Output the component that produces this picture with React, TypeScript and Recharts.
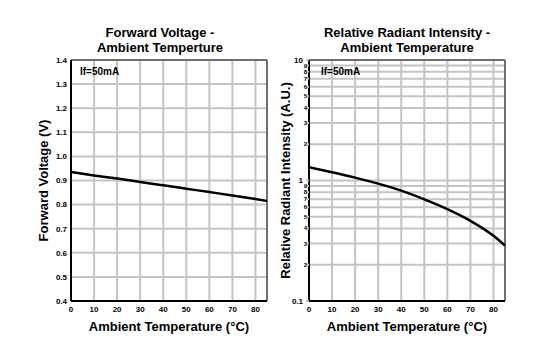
import {
  LineChart,
  Line,
  XAxis,
  YAxis,
  CartesianGrid,
  ReferenceLine,
} from 'recharts'

// temperature points (°C)
const temps = [0, 10, 20, 30, 40, 50, 60, 70, 80, 85]
const forwardVoltage = [0.935, 0.921, 0.908, 0.894, 0.88, 0.866, 0.852, 0.838, 0.823, 0.815]
const radiantIntensity = [1.29, 1.172, 1.057, 0.942, 0.824, 0.698, 0.579, 0.463, 0.348, 0.289]

const xTicks = [0, 10, 20, 30, 40, 50, 60, 70, 80]
const vfTicks = [0.4, 0.5, 0.6, 0.7, 0.8, 0.9, 1.0, 1.1, 1.2, 1.3, 1.4]
const logTicks = [
  0.1, 0.2, 0.3, 0.4, 0.5, 0.6, 0.7, 0.8, 0.9,
  1, 2, 3, 4, 5, 6, 7, 8, 9, 10,
]

const FONT = '"Liberation Sans", Arial, sans-serif'
const GRID = '#c4c4c4'
const FRAME = '#707070'

const vfData = temps.map((t, i) => ({ t, v: forwardVoltage[i] }))
const irData = temps.map((t, i) => ({ t, v: radiantIntensity[i] }))

function yLabel(text: string, x: number) {
  return (props: any) => {
    const vb = props.viewBox || {}
    const cy = (vb.y ?? 60) + (vb.height ?? 241) / 2
    return (
      <text
        transform={`translate(${x}, ${cy}) rotate(-90)`}
        textAnchor="middle"
        dominantBaseline="central"
        fontFamily={FONT}
        fontWeight="bold"
        fontSize={13}
        fill="#000"
      >
        {text}
      </text>
    )
  }
}

function xLabel(props: any) {
  const vb = props.viewBox || {}
  return (
    <text
      x={(vb.x ?? 0) + (vb.width ?? 0) / 2}
      y={(vb.y ?? 0) + 30}
      textAnchor="middle"
      fontFamily={FONT}
      fontWeight="bold"
      fontSize={13}
      fill="#000"
    >
      Ambient Temperature (°C)
    </text>
  )
}

// decade labels sit further left, the small 2..9 digits hug the axis
function LogTick(props: any) {
  const { x, y, payload } = props
  const v = payload.value
  const major = v === 0.1 || v === 1 || v === 10
  let label = String(v)
  if (!major) label = v < 1 ? String(Math.round(v * 10)) : String(v)
  return (
    <text
      x={major ? x - 2 : x + 2}
      y={y}
      textAnchor="end"
      dominantBaseline="central"
      fontFamily={FONT}
      fontWeight="bold"
      fontSize={major ? 8 : 6}
      fill="#000"
    >
      {label}
    </text>
  )
}

const tickStyle = { fontFamily: FONT, fontWeight: 'bold', fontSize: 8, fill: '#000' }

function Title({ lines, cx }: { lines: string[]; cx: number }) {
  return (
    <div
      style={{
        position: 'absolute',
        left: cx - 120,
        top: 25,
        width: 240,
        textAlign: 'center',
        fontFamily: FONT,
        fontWeight: 'bold',
        fontSize: 13,
        lineHeight: '15px',
        color: '#000',
      }}
    >
      {lines.map((l) => (
        <div key={l}>{l}</div>
      ))}
    </div>
  )
}

function Note({ left }: { left: number }) {
  return (
    <div
      style={{
        position: 'absolute',
        left,
        top: 66,
        fontFamily: FONT,
        fontWeight: 'bold',
        fontSize: 10,
        lineHeight: '12px',
        color: '#000',
      }}
    >
      If=50mA
    </div>
  )
}

export default function App() {
  return (
    <div
      style={{
        position: 'absolute',
        left: 0,
        top: 0,
        width: 544,
        height: 349,
        background: '#fff',
      }}
    >
      <div style={{ position: 'absolute', left: 0, top: 0 }}>
        <LineChart
          width={272}
          height={349}
          data={vfData}
          margin={{ top: 60, right: 5, bottom: 8, left: 41 }}
        >
          <CartesianGrid stroke={GRID} strokeWidth={2} />
          <XAxis
            dataKey="t"
            type="number"
            domain={[0, 85]}
            ticks={xTicks}
            interval={0}
            height={40}
            tickLine={false}
            tickSize={3}
            tickMargin={2}
            axisLine={{ stroke: '#000', strokeWidth: 2 }}
            tick={tickStyle}
            label={xLabel}
          />
          <YAxis
            type="number"
            domain={[0.4, 1.4]}
            ticks={vfTicks}
            interval={0}
            width={30}
            tickLine={false}
            tickSize={2}
            tickMargin={2}
            tickFormatter={(v: number) => v.toFixed(1)}
            axisLine={{ stroke: '#000', strokeWidth: 2 }}
            tick={tickStyle}
            label={yLabel('Forward Voltage (V)', 43)}
          />
          <ReferenceLine y={1.4} stroke={FRAME} strokeWidth={2} />
          <ReferenceLine x={85} stroke={FRAME} strokeWidth={2} />
          <Line
            type="monotone"
            dataKey="v"
            stroke="#000"
            strokeWidth={2.5}
            dot={false}
            isAnimationActive={false}
          />
        </LineChart>
      </div>
      <div style={{ position: 'absolute', left: 272, top: 0 }}>
        <LineChart
          width={272}
          height={349}
          data={irData}
          margin={{ top: 60, right: 39, bottom: 8, left: 13 }}
        >
          <CartesianGrid stroke={GRID} strokeWidth={2} />
          <XAxis
            dataKey="t"
            type="number"
            domain={[0, 85]}
            ticks={xTicks}
            interval={0}
            height={40}
            tickLine={false}
            tickSize={3}
            tickMargin={2}
            axisLine={{ stroke: '#000', strokeWidth: 2 }}
            tick={tickStyle}
            label={xLabel}
          />
          <YAxis
            type="number"
            scale="log"
            domain={[0.1, 10]}
            ticks={logTicks}
            interval={0}
            width={24}
            allowDataOverflow
            tickSize={3}
            tickMargin={1}
            tickLine={{ stroke: GRID, strokeWidth: 2 }}
            axisLine={{ stroke: '#000', strokeWidth: 2 }}
            tick={<LogTick />}
            label={yLabel('Relative Radiant Intensity (A.U.)', 13)}
          />
          <ReferenceLine y={10} stroke={FRAME} strokeWidth={2} />
          <ReferenceLine x={85} stroke={FRAME} strokeWidth={2} />
          <Line
            type="monotone"
            dataKey="v"
            stroke="#000"
            strokeWidth={2.5}
            dot={false}
            isAnimationActive={false}
          />
        </LineChart>
      </div>
      <Title lines={['Forward Voltage -', 'Ambient Temperture']} cx={160} />
      <Title lines={['Relative Radiant Intensity -', 'Ambient Temperature']} cx={407} />
      <Note left={80} />
      <Note left={321} />
    </div>
  )
}
